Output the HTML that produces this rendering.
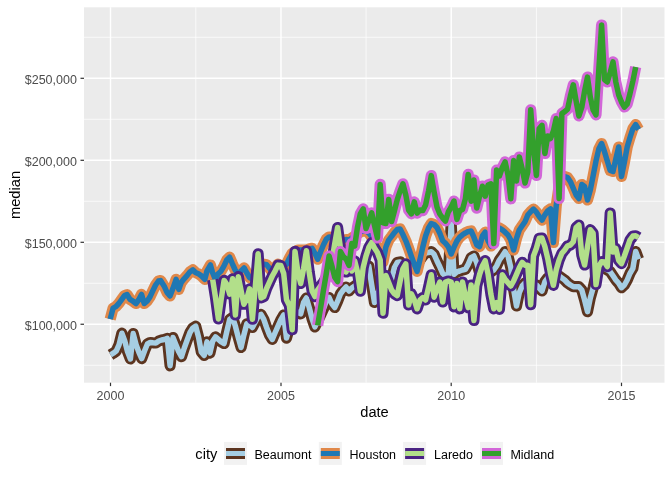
<!DOCTYPE html>
<html><head><meta charset="utf-8"><title>median by date</title>
<style>
html,body{margin:0;padding:0;background:#fff;}
svg{display:block;}
text{font-family:"Liberation Sans",Arial,sans-serif;}
.ax{font-size:12.5px;fill:#4D4D4D;}
.lg{font-size:12.5px;fill:#000;}
.ti{font-size:14.67px;fill:#000;}
</style></head><body>
<svg width="672" height="480" viewBox="0 0 672 480">
<rect width="672" height="480" fill="#fff"/>
<rect x="84.0" y="7.3" width="580.5" height="375.4" fill="#EBEBEB"/>
<line x1="84.0" x2="664.5" y1="37.3" y2="37.3" stroke="#fff" stroke-width="0.72"/>
<line x1="84.0" x2="664.5" y1="119.3" y2="119.3" stroke="#fff" stroke-width="0.72"/>
<line x1="84.0" x2="664.5" y1="201.3" y2="201.3" stroke="#fff" stroke-width="0.72"/>
<line x1="84.0" x2="664.5" y1="283.3" y2="283.3" stroke="#fff" stroke-width="0.72"/>
<line x1="84.0" x2="664.5" y1="365.3" y2="365.3" stroke="#fff" stroke-width="0.72"/>
<line y1="7.3" y2="382.7" x1="195.8" x2="195.8" stroke="#fff" stroke-width="0.72"/>
<line y1="7.3" y2="382.7" x1="366.1" x2="366.1" stroke="#fff" stroke-width="0.72"/>
<line y1="7.3" y2="382.7" x1="536.4" x2="536.4" stroke="#fff" stroke-width="0.72"/>
<line x1="84.0" x2="664.5" y1="78.3" y2="78.3" stroke="#fff" stroke-width="1.43"/>
<line x1="84.0" x2="664.5" y1="160.3" y2="160.3" stroke="#fff" stroke-width="1.43"/>
<line x1="84.0" x2="664.5" y1="242.3" y2="242.3" stroke="#fff" stroke-width="1.43"/>
<line x1="84.0" x2="664.5" y1="324.25" y2="324.25" stroke="#fff" stroke-width="1.43"/>
<line y1="7.3" y2="382.7" x1="110.5" x2="110.5" stroke="#fff" stroke-width="1.43"/>
<line y1="7.3" y2="382.7" x1="281.0" x2="281.0" stroke="#fff" stroke-width="1.43"/>
<line y1="7.3" y2="382.7" x1="451.2" x2="451.2" stroke="#fff" stroke-width="1.43"/>
<line y1="7.3" y2="382.7" x1="621.5" x2="621.5" stroke="#fff" stroke-width="1.43"/>
<defs><clipPath id="cp"><rect x="84.0" y="7.3" width="580.5" height="375.4"/></clipPath></defs>
<g clip-path="url(#cp)">
<polyline points="110.5,354.8 113.3,353.2 116.2,351.1 119.0,344.8 121.9,333.2 124.7,340.7 127.5,351.5 130.4,359.0 133.2,333.6 136.1,344.8 138.9,352.3 141.7,358.6 144.6,350.7 147.4,344.0 150.2,342.5 153.1,342.8 155.9,343.0 158.8,341.0 161.6,340.0 164.4,339.5 167.3,338.4 170.1,365.8 173.0,337.6 175.8,344.5 178.6,351.4 181.5,356.7 184.3,348.0 187.2,340.0 190.0,332.5 192.8,328.0 195.7,326.2 198.5,337.0 201.3,352.0 204.2,355.5 207.0,341.9 209.9,353.1 212.7,341.2 215.5,336.9 218.4,339.4 221.2,341.9 224.1,343.5 226.9,331.2 229.7,319.4 232.6,317.5 235.4,326.2 238.3,337.5 241.1,347.5 243.9,335.0 246.8,323.8 249.6,325.0 252.4,327.5 255.3,322.0 258.1,316.2 261.0,314.4 263.8,319.4 266.6,327.5 269.5,335.0 272.3,339.4 275.2,332.5 278.0,326.2 280.8,320.0 283.7,315.0 286.5,338.1 289.4,327.5 292.2,316.0 295.0,310.0 297.9,312.5 300.7,313.8 303.6,302.5 306.4,298.0 309.2,307.5 312.1,318.8 314.9,326.9 317.7,321.0 320.6,315.0 323.4,309.0 326.3,301.0 329.1,297.5 331.9,303.8 334.8,307.5 337.6,301.2 340.5,293.8 343.3,290.0 346.1,287.0 349.0,291.0 351.8,288.0 354.7,286.0 357.5,284.0 360.3,280.0 363.2,275.0 366.0,270.0 368.8,266.0 371.7,285.0 374.5,302.5 377.4,295.0 380.2,285.0 383.0,282.0 385.9,288.0 388.7,291.0 391.6,278.8 394.4,267.5 397.2,262.5 400.1,261.9 402.9,268.0 405.8,272.0 408.6,270.0 411.4,268.0 414.3,266.0 417.1,264.0 420.0,260.0 422.8,256.0 425.6,253.0 428.5,252.5 431.3,251.7 434.1,254.3 437.0,261.0 439.8,266.8 442.7,273.5 445.5,276.0 448.3,275.0 451.2,224.0 454.0,274.3 456.9,271.8 459.7,271.0 462.5,270.0 465.4,269.3 468.2,264.3 471.1,257.7 473.9,256.0 476.7,262.7 479.6,272.7 482.4,275.0 485.2,276.0 488.1,275.0 490.9,272.0 493.8,270.0 496.6,266.0 499.4,260.0 502.3,256.0 505.1,251.7 508.0,256.0 510.8,267.7 513.6,289.3 516.5,306.0 519.3,292.7 522.2,286.0 525.0,283.0 527.8,282.0 530.7,283.0 533.5,284.0 536.4,285.0 539.2,288.0 542.0,291.0 544.9,281.7 547.7,278.0 550.5,276.0 553.4,275.0 556.2,275.0 559.1,276.0 561.9,278.0 564.7,280.0 567.6,283.0 570.4,285.0 573.3,286.7 576.1,286.7 578.9,286.7 581.8,290.0 584.6,300.0 587.5,311.7 590.3,298.0 593.1,288.0 596.0,275.0 598.8,268.0 601.6,268.0 604.5,268.0 607.3,270.0 610.2,271.7 613.0,275.8 615.8,280.0 618.7,283.3 621.5,287.7 624.4,285.0 627.2,280.0 630.0,273.3 632.9,268.3 635.7,251.5 638.6,259.3" fill="none" stroke="#5C3520" stroke-width="11.2" stroke-linejoin="round" stroke-linecap="butt"/>
<polyline points="110.5,354.8 113.3,353.2 116.2,351.1 119.0,344.8 121.9,333.2 124.7,340.7 127.5,351.5 130.4,359.0 133.2,333.6 136.1,344.8 138.9,352.3 141.7,358.6 144.6,350.7 147.4,344.0 150.2,342.5 153.1,342.8 155.9,343.0 158.8,341.0 161.6,340.0 164.4,339.5 167.3,338.4 170.1,365.8 173.0,337.6 175.8,344.5 178.6,351.4 181.5,356.7 184.3,348.0 187.2,340.0 190.0,332.5 192.8,328.0 195.7,326.2 198.5,337.0 201.3,352.0 204.2,355.5 207.0,341.9 209.9,353.1 212.7,341.2 215.5,336.9 218.4,339.4 221.2,341.9 224.1,343.5 226.9,331.2 229.7,319.4 232.6,317.5 235.4,326.2 238.3,337.5 241.1,347.5 243.9,335.0 246.8,323.8 249.6,325.0 252.4,327.5 255.3,322.0 258.1,316.2 261.0,314.4 263.8,319.4 266.6,327.5 269.5,335.0 272.3,339.4 275.2,332.5 278.0,326.2 280.8,320.0 283.7,315.0 286.5,338.1 289.4,327.5 292.2,316.0 295.0,310.0 297.9,312.5 300.7,313.8 303.6,302.5 306.4,298.0 309.2,307.5 312.1,318.8 314.9,326.9 317.7,321.0 320.6,315.0 323.4,309.0 326.3,301.0 329.1,297.5 331.9,303.8 334.8,307.5 337.6,301.2 340.5,293.8 343.3,290.0 346.1,287.0 349.0,291.0 351.8,288.0 354.7,286.0 357.5,284.0 360.3,280.0 363.2,275.0 366.0,270.0 368.8,266.0 371.7,285.0 374.5,302.5 377.4,295.0 380.2,285.0 383.0,282.0 385.9,288.0 388.7,291.0 391.6,278.8 394.4,267.5 397.2,262.5 400.1,261.9 402.9,268.0 405.8,272.0 408.6,270.0 411.4,268.0 414.3,266.0 417.1,264.0 420.0,260.0 422.8,256.0 425.6,253.0 428.5,252.5 431.3,251.7 434.1,254.3 437.0,261.0 439.8,266.8 442.7,273.5 445.5,276.0 448.3,275.0 451.2,224.0 454.0,274.3 456.9,271.8 459.7,271.0 462.5,270.0 465.4,269.3 468.2,264.3 471.1,257.7 473.9,256.0 476.7,262.7 479.6,272.7 482.4,275.0 485.2,276.0 488.1,275.0 490.9,272.0 493.8,270.0 496.6,266.0 499.4,260.0 502.3,256.0 505.1,251.7 508.0,256.0 510.8,267.7 513.6,289.3 516.5,306.0 519.3,292.7 522.2,286.0 525.0,283.0 527.8,282.0 530.7,283.0 533.5,284.0 536.4,285.0 539.2,288.0 542.0,291.0 544.9,281.7 547.7,278.0 550.5,276.0 553.4,275.0 556.2,275.0 559.1,276.0 561.9,278.0 564.7,280.0 567.6,283.0 570.4,285.0 573.3,286.7 576.1,286.7 578.9,286.7 581.8,290.0 584.6,300.0 587.5,311.7 590.3,298.0 593.1,288.0 596.0,275.0 598.8,268.0 601.6,268.0 604.5,268.0 607.3,270.0 610.2,271.7 613.0,275.8 615.8,280.0 618.7,283.3 621.5,287.7 624.4,285.0 627.2,280.0 630.0,273.3 632.9,268.3 635.7,251.5 638.6,259.3" fill="none" stroke="#A6CEE3" stroke-width="5.5" stroke-linejoin="round" stroke-linecap="butt"/>
<polyline points="110.2,319.1 113.1,308.1 115.9,306.6 118.8,303.5 121.6,299.6 124.5,295.6 127.0,294.6 130.1,299.4 133.0,301.2 136.0,303.5 138.6,300.0 141.5,294.4 144.2,303.5 147.1,301.2 150.0,296.9 152.9,290.6 155.6,285.0 158.5,281.0 160.6,280.6 164.2,286.2 167.0,292.5 170.0,296.0 172.8,288.8 176.1,279.4 178.8,289.4 181.2,282.5 184.1,278.8 187.0,275.6 189.9,271.9 192.9,269.8 195.5,272.5 198.4,273.8 201.1,275.6 204.8,279.4 206.9,271.2 210.4,265.0 212.5,272.5 215.4,279.4 218.2,273.8 221.0,271.2 223.9,266.2 226.8,260.0 229.6,257.2 232.4,263.8 235.2,270.0 238.1,274.6 240.9,271.2 244.1,267.9 246.6,272.5 249.5,277.5 252.4,279.0 255.3,275.0 258.1,270.0 261.0,266.0 263.8,264.2 266.6,264.7 269.5,268.3 272.3,271.7 275.2,267.5 278.0,264.2 280.8,265.8 283.7,266.7 286.5,264.2 289.4,258.3 292.2,253.3 295.0,251.7 297.9,250.0 300.7,250.0 303.6,250.0 306.4,250.0 309.2,249.0 312.1,248.3 314.9,253.3 317.7,259.2 320.6,251.7 323.4,245.0 326.3,239.2 329.1,237.0 331.9,237.5 334.8,239.2 337.6,240.0 340.5,240.8 343.3,240.8 346.1,239.5 349.0,240.0 351.8,238.0 354.7,236.0 357.5,234.0 360.3,232.0 363.2,231.0 366.0,231.0 368.8,233.0 371.7,237.0 374.5,242.0 377.4,247.0 380.2,252.0 383.0,262.0 385.9,247.0 388.7,240.1 391.6,236.4 394.4,232.6 397.2,229.5 400.1,228.9 402.9,234.5 405.8,240.8 408.6,248.2 411.4,256.4 414.3,264.5 417.1,271.4 420.0,259.5 422.8,247.0 425.6,236.0 428.5,228.0 431.3,223.5 434.1,224.5 437.0,227.5 439.8,233.3 442.7,240.8 445.5,243.3 448.3,246.7 451.2,254.0 454.0,247.2 456.9,241.0 459.7,237.2 462.5,234.8 465.4,232.9 468.2,231.6 471.1,231.0 473.9,237.2 476.7,244.8 479.6,246.6 482.4,236.0 485.2,232.2 488.1,241.0 490.9,246.0 493.8,240.0 496.6,230.0 499.4,228.0 502.3,229.8 505.1,232.2 508.0,235.0 510.8,240.0 513.6,250.0 516.5,238.3 519.3,230.0 522.2,225.8 525.0,221.7 527.8,215.0 530.7,211.7 533.5,209.1 536.4,212.2 539.2,216.6 542.0,220.1 544.9,214.8 547.7,211.0 550.5,208.8 553.4,242.5 556.2,206.0 559.1,186.0 561.9,178.5 564.7,176.5 567.6,177.5 570.4,181.7 573.3,188.3 576.1,195.0 578.9,198.5 581.8,184.5 584.6,186.5 587.5,200.0 590.3,190.0 593.1,176.0 596.0,161.0 598.8,149.0 601.6,143.5 604.5,151.7 607.3,161.0 610.2,170.5 613.0,171.5 615.8,159.0 618.7,147.0 621.5,176.4 624.4,162.3 627.2,147.0 630.0,137.5 632.9,128.7 635.7,124.6 638.6,129.5" fill="none" stroke="#E0884A" stroke-width="11.2" stroke-linejoin="round" stroke-linecap="butt"/>
<polyline points="110.2,319.1 113.1,308.1 115.9,306.6 118.8,303.5 121.6,299.6 124.5,295.6 127.0,294.6 130.1,299.4 133.0,301.2 136.0,303.5 138.6,300.0 141.5,294.4 144.2,303.5 147.1,301.2 150.0,296.9 152.9,290.6 155.6,285.0 158.5,281.0 160.6,280.6 164.2,286.2 167.0,292.5 170.0,296.0 172.8,288.8 176.1,279.4 178.8,289.4 181.2,282.5 184.1,278.8 187.0,275.6 189.9,271.9 192.9,269.8 195.5,272.5 198.4,273.8 201.1,275.6 204.8,279.4 206.9,271.2 210.4,265.0 212.5,272.5 215.4,279.4 218.2,273.8 221.0,271.2 223.9,266.2 226.8,260.0 229.6,257.2 232.4,263.8 235.2,270.0 238.1,274.6 240.9,271.2 244.1,267.9 246.6,272.5 249.5,277.5 252.4,279.0 255.3,275.0 258.1,270.0 261.0,266.0 263.8,264.2 266.6,264.7 269.5,268.3 272.3,271.7 275.2,267.5 278.0,264.2 280.8,265.8 283.7,266.7 286.5,264.2 289.4,258.3 292.2,253.3 295.0,251.7 297.9,250.0 300.7,250.0 303.6,250.0 306.4,250.0 309.2,249.0 312.1,248.3 314.9,253.3 317.7,259.2 320.6,251.7 323.4,245.0 326.3,239.2 329.1,237.0 331.9,237.5 334.8,239.2 337.6,240.0 340.5,240.8 343.3,240.8 346.1,239.5 349.0,240.0 351.8,238.0 354.7,236.0 357.5,234.0 360.3,232.0 363.2,231.0 366.0,231.0 368.8,233.0 371.7,237.0 374.5,242.0 377.4,247.0 380.2,252.0 383.0,262.0 385.9,247.0 388.7,240.1 391.6,236.4 394.4,232.6 397.2,229.5 400.1,228.9 402.9,234.5 405.8,240.8 408.6,248.2 411.4,256.4 414.3,264.5 417.1,271.4 420.0,259.5 422.8,247.0 425.6,236.0 428.5,228.0 431.3,223.5 434.1,224.5 437.0,227.5 439.8,233.3 442.7,240.8 445.5,243.3 448.3,246.7 451.2,254.0 454.0,247.2 456.9,241.0 459.7,237.2 462.5,234.8 465.4,232.9 468.2,231.6 471.1,231.0 473.9,237.2 476.7,244.8 479.6,246.6 482.4,236.0 485.2,232.2 488.1,241.0 490.9,246.0 493.8,240.0 496.6,230.0 499.4,228.0 502.3,229.8 505.1,232.2 508.0,235.0 510.8,240.0 513.6,250.0 516.5,238.3 519.3,230.0 522.2,225.8 525.0,221.7 527.8,215.0 530.7,211.7 533.5,209.1 536.4,212.2 539.2,216.6 542.0,220.1 544.9,214.8 547.7,211.0 550.5,208.8 553.4,242.5 556.2,206.0 559.1,186.0 561.9,178.5 564.7,176.5 567.6,177.5 570.4,181.7 573.3,188.3 576.1,195.0 578.9,198.5 581.8,184.5 584.6,186.5 587.5,200.0 590.3,190.0 593.1,176.0 596.0,161.0 598.8,149.0 601.6,143.5 604.5,151.7 607.3,161.0 610.2,170.5 613.0,171.5 615.8,159.0 618.7,147.0 621.5,176.4 624.4,162.3 627.2,147.0 630.0,137.5 632.9,128.7 635.7,124.6 638.6,129.5" fill="none" stroke="#1F78B4" stroke-width="5.5" stroke-linejoin="round" stroke-linecap="butt"/>
<polyline points="212.7,279.6 215.5,297.5 218.4,319.0 221.2,299.2 224.1,280.4 226.9,284.6 229.7,294.2 232.6,278.8 235.4,315.0 238.3,276.7 241.1,290.8 243.9,304.2 246.8,298.8 249.6,288.8 252.4,319.2 255.3,286.7 258.1,253.8 261.0,297.9 263.8,296.6 266.6,288.5 269.5,282.2 272.3,276.0 275.2,270.8 278.0,265.1 280.8,265.5 283.7,273.5 286.5,299.8 289.4,305.4 292.2,329.8 295.0,251.4 297.9,272.2 300.7,283.5 303.6,268.5 306.4,250.8 309.2,272.2 312.1,291.0 314.9,296.6 317.7,289.8 320.6,286.0 323.4,282.2 326.3,277.2 329.1,271.0 331.9,261.0 334.8,243.5 337.6,227.5 340.5,248.5 343.3,262.0 346.1,272.0 349.0,258.0 351.8,271.0 354.7,261.0 357.5,272.0 360.3,291.2 363.2,267.5 366.0,256.2 368.8,247.5 371.7,242.6 374.5,248.1 377.4,252.5 380.2,260.0 383.0,313.2 385.9,275.6 388.7,282.5 391.6,290.0 394.4,293.8 397.2,295.6 400.1,281.2 402.9,268.8 405.8,263.9 408.6,305.0 411.4,293.8 414.3,300.0 417.1,308.8 420.0,300.0 422.8,297.5 425.6,300.0 428.5,287.5 431.3,274.8 434.1,297.2 437.0,289.0 439.8,282.0 442.7,302.0 445.5,282.0 448.3,281.0 451.2,282.0 454.0,306.8 456.9,283.5 459.7,308.8 462.5,282.0 465.4,296.0 468.2,307.7 471.1,285.0 473.9,320.5 476.7,286.0 479.6,274.3 482.4,266.0 485.2,260.7 488.1,274.3 490.9,294.3 493.8,308.8 496.6,302.7 499.4,309.3 502.3,274.8 505.1,279.3 508.0,282.7 510.8,286.0 513.6,281.0 516.5,274.3 519.3,267.7 522.2,262.3 525.0,265.2 527.8,265.2 530.7,304.7 533.5,256.0 536.4,248.3 539.2,238.3 542.0,238.0 544.9,246.7 547.7,258.3 550.5,273.3 553.4,285.3 556.2,270.0 559.1,260.0 561.9,253.3 564.7,250.0 567.6,245.8 570.4,245.0 573.3,241.7 576.1,227.5 578.9,225.0 581.8,255.0 584.6,265.0 587.5,246.7 590.3,229.7 593.1,233.3 596.0,284.5 598.8,266.7 601.6,261.7 604.5,262.0 607.3,266.6 610.2,213.0 613.0,252.0 615.8,248.4 618.7,260.4 621.5,263.6 624.4,256.0 627.2,248.0 630.0,240.0 632.9,236.0 635.7,235.8 638.6,237.5" fill="none" stroke="#4A2383" stroke-width="11.2" stroke-linejoin="round" stroke-linecap="butt"/>
<polyline points="212.7,279.6 215.5,297.5 218.4,319.0 221.2,299.2 224.1,280.4 226.9,284.6 229.7,294.2 232.6,278.8 235.4,315.0 238.3,276.7 241.1,290.8 243.9,304.2 246.8,298.8 249.6,288.8 252.4,319.2 255.3,286.7 258.1,253.8 261.0,297.9 263.8,296.6 266.6,288.5 269.5,282.2 272.3,276.0 275.2,270.8 278.0,265.1 280.8,265.5 283.7,273.5 286.5,299.8 289.4,305.4 292.2,329.8 295.0,251.4 297.9,272.2 300.7,283.5 303.6,268.5 306.4,250.8 309.2,272.2 312.1,291.0 314.9,296.6 317.7,289.8 320.6,286.0 323.4,282.2 326.3,277.2 329.1,271.0 331.9,261.0 334.8,243.5 337.6,227.5 340.5,248.5 343.3,262.0 346.1,272.0 349.0,258.0 351.8,271.0 354.7,261.0 357.5,272.0 360.3,291.2 363.2,267.5 366.0,256.2 368.8,247.5 371.7,242.6 374.5,248.1 377.4,252.5 380.2,260.0 383.0,313.2 385.9,275.6 388.7,282.5 391.6,290.0 394.4,293.8 397.2,295.6 400.1,281.2 402.9,268.8 405.8,263.9 408.6,305.0 411.4,293.8 414.3,300.0 417.1,308.8 420.0,300.0 422.8,297.5 425.6,300.0 428.5,287.5 431.3,274.8 434.1,297.2 437.0,289.0 439.8,282.0 442.7,302.0 445.5,282.0 448.3,281.0 451.2,282.0 454.0,306.8 456.9,283.5 459.7,308.8 462.5,282.0 465.4,296.0 468.2,307.7 471.1,285.0 473.9,320.5 476.7,286.0 479.6,274.3 482.4,266.0 485.2,260.7 488.1,274.3 490.9,294.3 493.8,308.8 496.6,302.7 499.4,309.3 502.3,274.8 505.1,279.3 508.0,282.7 510.8,286.0 513.6,281.0 516.5,274.3 519.3,267.7 522.2,262.3 525.0,265.2 527.8,265.2 530.7,304.7 533.5,256.0 536.4,248.3 539.2,238.3 542.0,238.0 544.9,246.7 547.7,258.3 550.5,273.3 553.4,285.3 556.2,270.0 559.1,260.0 561.9,253.3 564.7,250.0 567.6,245.8 570.4,245.0 573.3,241.7 576.1,227.5 578.9,225.0 581.8,255.0 584.6,265.0 587.5,246.7 590.3,229.7 593.1,233.3 596.0,284.5 598.8,266.7 601.6,261.7 604.5,262.0 607.3,266.6 610.2,213.0 613.0,252.0 615.8,248.4 618.7,260.4 621.5,263.6 624.4,256.0 627.2,248.0 630.0,240.0 632.9,236.0 635.7,235.8 638.6,237.5" fill="none" stroke="#B2DF8A" stroke-width="5.5" stroke-linejoin="round" stroke-linecap="butt"/>
<polyline points="317.7,325.4 320.6,307.9 323.4,290.6 326.3,273.5 329.1,256.0 331.9,266.0 334.8,277.2 337.6,281.6 340.5,251.6 343.3,256.6 346.1,259.1 349.0,265.4 351.8,243.5 354.7,246.0 357.5,227.2 360.3,213.8 363.2,208.8 366.0,228.5 368.8,220.8 371.7,212.9 374.5,225.4 377.4,237.9 380.2,184.4 383.0,222.9 385.9,223.5 388.7,199.4 391.6,221.6 394.4,211.0 397.2,199.8 400.1,191.0 402.9,183.8 405.8,195.0 408.6,210.0 411.4,213.8 414.3,201.9 417.1,213.1 420.0,210.0 422.8,210.6 425.6,205.0 428.5,191.2 431.3,175.6 434.1,192.0 437.0,207.0 439.8,214.0 442.7,218.0 445.5,221.0 448.3,212.0 451.2,207.0 454.0,201.0 456.9,219.4 459.7,210.6 462.5,209.4 465.4,198.8 468.2,174.4 471.1,201.2 473.9,180.0 476.7,208.1 479.6,196.2 482.4,186.2 485.2,196.2 488.1,185.0 490.9,183.8 493.8,243.5 496.6,170.0 499.4,176.0 502.3,167.5 505.1,161.9 508.0,175.0 510.8,198.8 513.6,160.6 516.5,181.0 519.3,157.0 522.2,169.0 525.0,183.0 527.8,172.0 530.7,109.8 533.5,148.5 536.4,175.4 539.2,128.5 542.0,125.4 544.9,153.5 547.7,136.0 550.5,138.5 553.4,131.0 556.2,118.5 559.1,198.5 561.9,113.5 564.7,111.6 567.6,109.1 570.4,96.0 573.3,84.8 576.1,101.0 578.9,116.0 581.8,107.2 584.6,91.0 587.5,77.1 590.3,97.2 593.1,109.8 596.0,114.8 598.8,69.8 601.6,25.0 604.5,79.6 607.3,82.0 610.2,72.5 613.0,61.9 615.8,82.0 618.7,95.0 621.5,102.0 624.4,107.0 627.2,104.1 630.0,93.5 632.9,81.0 635.7,67.0" fill="none" stroke="#D266D8" stroke-width="11.2" stroke-linejoin="round" stroke-linecap="butt"/>
<polyline points="317.7,325.4 320.6,307.9 323.4,290.6 326.3,273.5 329.1,256.0 331.9,266.0 334.8,277.2 337.6,281.6 340.5,251.6 343.3,256.6 346.1,259.1 349.0,265.4 351.8,243.5 354.7,246.0 357.5,227.2 360.3,213.8 363.2,208.8 366.0,228.5 368.8,220.8 371.7,212.9 374.5,225.4 377.4,237.9 380.2,184.4 383.0,222.9 385.9,223.5 388.7,199.4 391.6,221.6 394.4,211.0 397.2,199.8 400.1,191.0 402.9,183.8 405.8,195.0 408.6,210.0 411.4,213.8 414.3,201.9 417.1,213.1 420.0,210.0 422.8,210.6 425.6,205.0 428.5,191.2 431.3,175.6 434.1,192.0 437.0,207.0 439.8,214.0 442.7,218.0 445.5,221.0 448.3,212.0 451.2,207.0 454.0,201.0 456.9,219.4 459.7,210.6 462.5,209.4 465.4,198.8 468.2,174.4 471.1,201.2 473.9,180.0 476.7,208.1 479.6,196.2 482.4,186.2 485.2,196.2 488.1,185.0 490.9,183.8 493.8,243.5 496.6,170.0 499.4,176.0 502.3,167.5 505.1,161.9 508.0,175.0 510.8,198.8 513.6,160.6 516.5,181.0 519.3,157.0 522.2,169.0 525.0,183.0 527.8,172.0 530.7,109.8 533.5,148.5 536.4,175.4 539.2,128.5 542.0,125.4 544.9,153.5 547.7,136.0 550.5,138.5 553.4,131.0 556.2,118.5 559.1,198.5 561.9,113.5 564.7,111.6 567.6,109.1 570.4,96.0 573.3,84.8 576.1,101.0 578.9,116.0 581.8,107.2 584.6,91.0 587.5,77.1 590.3,97.2 593.1,109.8 596.0,114.8 598.8,69.8 601.6,25.0 604.5,79.6 607.3,82.0 610.2,72.5 613.0,61.9 615.8,82.0 618.7,95.0 621.5,102.0 624.4,107.0 627.2,104.1 630.0,93.5 632.9,81.0 635.7,67.0" fill="none" stroke="#33A02C" stroke-width="5.5" stroke-linejoin="round" stroke-linecap="butt"/>
</g>
<rect x="80.5" y="77.7" width="3.5" height="1.2" fill="#333"/>
<rect x="80.5" y="159.70000000000002" width="3.5" height="1.2" fill="#333"/>
<rect x="80.5" y="241.70000000000002" width="3.5" height="1.2" fill="#333"/>
<rect x="80.5" y="323.65" width="3.5" height="1.2" fill="#333"/>
<rect x="109.9" y="382.7" width="1.2" height="3.4" fill="#333"/>
<rect x="280.4" y="382.7" width="1.2" height="3.4" fill="#333"/>
<rect x="450.59999999999997" y="382.7" width="1.2" height="3.4" fill="#333"/>
<rect x="620.9" y="382.7" width="1.2" height="3.4" fill="#333"/>
<rect x="224.0" y="441.9" width="23" height="23" fill="#F2F2F2"/>
<rect x="226.0" y="448" width="19" height="11" fill="#5C3520"/>
<rect x="226.0" y="451" width="19" height="5" fill="#A6CEE3"/>
<rect x="318.8" y="441.9" width="23" height="23" fill="#F2F2F2"/>
<rect x="320.8" y="448" width="19" height="11" fill="#E0884A"/>
<rect x="320.8" y="451" width="19" height="5" fill="#1F78B4"/>
<rect x="403.1" y="441.9" width="23" height="23" fill="#F2F2F2"/>
<rect x="405.1" y="448" width="19" height="11" fill="#4A2383"/>
<rect x="405.1" y="451" width="19" height="5" fill="#B2DF8A"/>
<rect x="480.0" y="441.9" width="23" height="23" fill="#F2F2F2"/>
<rect x="482.0" y="448" width="19" height="11" fill="#D266D8"/>
<rect x="482.0" y="451" width="19" height="5" fill="#33A02C"/>
<text x="76.9" y="84.3" text-anchor="end" class="ax">$250,000</text>
<text x="76.9" y="166.3" text-anchor="end" class="ax">$200,000</text>
<text x="76.9" y="248.3" text-anchor="end" class="ax">$150,000</text>
<text x="76.9" y="330.25" text-anchor="end" class="ax">$100,000</text>
<text x="110.5" y="400.3" text-anchor="middle" class="ax">2000</text>
<text x="281.0" y="400.3" text-anchor="middle" class="ax">2005</text>
<text x="451.2" y="400.3" text-anchor="middle" class="ax">2010</text>
<text x="621.5" y="400.3" text-anchor="middle" class="ax">2015</text>
<text x="374.5" y="417.4" text-anchor="middle" class="ti">date</text>
<text transform="translate(19.5,195) rotate(-90)" text-anchor="middle" class="ti">median</text>
<text x="195.3" y="458.9" class="ti">city</text>
<text x="254.5" y="458.5" class="lg">Beaumont</text>
<text x="349.5" y="458.5" class="lg">Houston</text>
<text x="434.0" y="458.5" class="lg">Laredo</text>
<text x="510.4" y="458.5" class="lg">Midland</text>
</svg>
</body></html>
